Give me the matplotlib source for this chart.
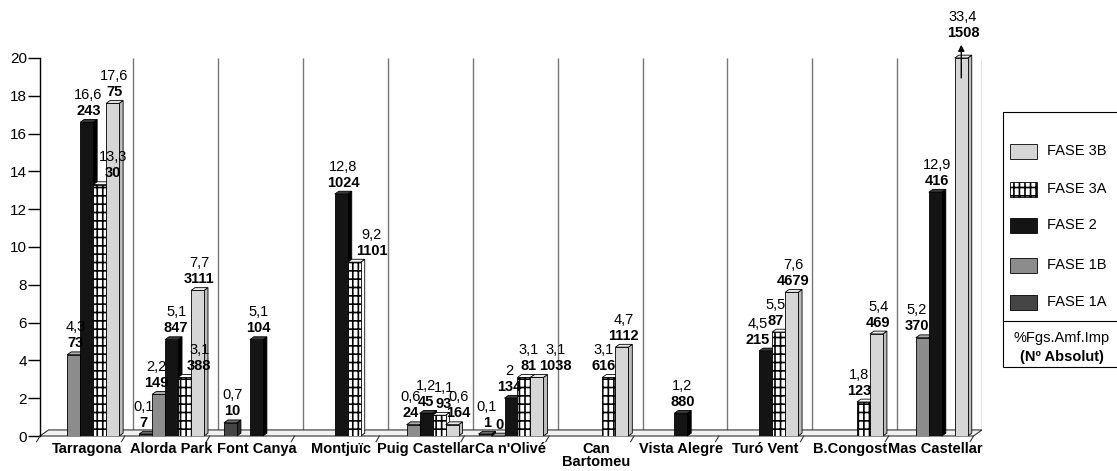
import numpy as np
import matplotlib.pyplot as plt
from matplotlib.patches import Rectangle, Polygon

plt.rcParams['font.family'] = ['Liberation Sans', 'DejaVu Sans']
plt.rcParams['hatch.linewidth'] = 1.2

sites = ['Tarragona', 'Alorda Park', 'Font Canya', 'Montjuïc', 'Puig Castellar',
         "Ca n'Olivé", 'Can\nBartomeu', 'Vista Alegre', 'Turó Vent', 'B.Congost',
         'Mas Castellar']
fases = ['FASE 1A', 'FASE 1B', 'FASE 2', 'FASE 3A', 'FASE 3B']

# % de fragments d'àmfora importada per fase (None = fase sense dades)
pct_1a = [None, 0.1, 0.7, None, None, 0.1, None, None, None, None, None]
pct_1b = [4.3, 2.2, None, None, 0.6, 0.0, None, None, None, None, 5.2]
pct_2 = [16.6, 5.1, 5.1, 12.8, 1.2, 2.0, None, 1.2, 4.5, None, 12.9]
pct_3a = [13.3, 3.1, None, 9.2, 1.1, 3.1, 3.1, None, 5.5, 1.8, None]
pct_3b = [17.6, 7.7, None, None, 0.6, 3.1, 4.7, None, 7.6, 5.4, 33.4]

# nombre absolut de fragments
num_1a = [None, 7, 10, None, None, 1, None, None, None, None, None]
num_1b = [73, 149, None, None, 24, 0, None, None, None, None, 370]
num_2 = [243, 847, 104, 1024, 45, 134, None, 880, 215, None, 416]
num_3a = [30, 388, None, 1101, 93, 81, 616, None, 87, 123, None]
num_3b = [75, 3111, None, None, 164, 1038, 1112, None, 4679, 469, 1508]

pcts = [pct_1a, pct_1b, pct_2, pct_3a, pct_3b]
nums = [num_1a, num_1b, num_2, num_3a, num_3b]

# cara frontal, lateral i superior de cada fase
styles = [
    dict(face='#454545', side='#2c2c2c', top='#6a6a6a', hatch=None),
    dict(face='#8c8c8c', side='#6c6c6c', top='#aaaaaa', hatch=None),
    dict(face='#141414', side='#000000', top='#3a3a3a', hatch=None),
    dict(face='white', side='white', top='white', hatch='|||--'),
    dict(face='#d6d6d6', side='#bcbcbc', top='#e8e8e8', hatch=None),
]

# desplaçament lateral (px) d'algunes etiquetes perquè no es trepitgin
label_shift = {
    (3, 0): 12, (0, 1): -4, (1, 1): -4, (2, 1): 3, (3, 1): 13, (3, 3): 16,
    (1, 4): -4, (2, 4): -2, (3, 4): 3, (4, 4): 5,
    (2, 5): -3, (3, 5): 3, (4, 5): 17, (3, 6): -7, (2, 8): -10, (3, 8): -5,
    (3, 9): -6, (1, 10): -7,
}


def fmt(v):
    return f'{v:g}'.replace('.', ',')


fig = plt.figure(figsize=(11.17, 4.71), dpi=100)
ax = fig.add_axes([40 / 1117, 35 / 471, 942 / 1117, 378 / 471])

ymax = 20
ax.set_xlim(-0.55, 10.55)
ax.set_ylim(0, ymax)
px = 11.1 / 942   # unitats de dades per píxel
x = np.arange(len(sites))
bw = 0.153   # amplada de barra
dx = 0.047   # profunditat lateral
dy = 0.15    # profunditat vertical

# terra en perspectiva
ax.add_patch(Polygon([(-0.55, 0), (10.45, 0), (10.55, 0.32), (-0.45, 0.32)],
                     closed=True, fc='#f2f2f2', ec='#333333', lw=0.8,
                     zorder=1, clip_on=False))
for b in np.arange(-1, len(sites)) + 0.45:
    ax.plot([b, b - 0.04], [0, -0.3], color='#333333', lw=0.8, clip_on=False)

# separadors entre jaciments
ax.vlines(x + 0.55, 0.32, ymax, colors='#777777', lw=1.0, zorder=0.5)

for i, (pct, num) in enumerate(zip(pcts, nums)):
    st = styles[i]
    z = 3 + i * 0.1
    for k in range(len(sites)):
        v = pct[k]
        if v is None:
            continue
        xc = x[k] + (i - 2) * bw
        h = min(v, ymax)
        x0, x1 = xc - bw / 2, xc + bw / 2
        ax.add_patch(Polygon([(x1, 0), (x1 + dx, dy), (x1 + dx, h + dy), (x1, h)],
                             closed=True, fc=st['side'], ec='black', lw=0.6,
                             zorder=z, clip_on=False))
        ax.add_patch(Polygon([(x0, h), (x1, h), (x1 + dx, h + dy), (x0 + dx, h + dy)],
                             closed=True, fc=st['top'], ec='black', lw=0.6,
                             zorder=z, clip_on=False))
        ax.add_patch(Rectangle((x0, 0), bw, h, fc=st['face'], ec='black', lw=0.6,
                               hatch=st['hatch'], zorder=z + 0.01))

        if v > ymax:
            # barra tallada: fletxa cap amunt
            ax.annotate('', xy=(xc, ymax + 0.85), xytext=(xc, ymax - 1.2),
                        arrowprops=dict(arrowstyle='-|>', color='black', lw=1.0,
                                        mutation_scale=9),
                        annotation_clip=False, zorder=6)
            base = ymax + 0.85
        else:
            base = h + dy
        xl = xc + 0.02 + label_shift.get((i, k), 0) * px
        ax.text(xl, base + 0.45, str(num[k]), ha='center', va='center',
                fontsize=10.5, fontweight='bold', zorder=7, clip_on=False)
        if v > 0:
            ax.text(xl, base + 1.3, fmt(v), ha='center', va='center',
                    fontsize=10.5, zorder=7, clip_on=False)

ax.set_yticks(range(0, 21, 2))
ax.tick_params(axis='y', direction='out', length=8.5, width=1, pad=1, labelsize=11)
ax.set_xticks(x)
ax.set_xticklabels(sites, fontsize=10.5, fontweight='bold', linespacing=0.95)
ax.tick_params(axis='x', length=0, pad=4)
for s in ['top', 'right', 'bottom']:
    ax.spines[s].set_visible(False)
ax.spines['left'].set_linewidth(1.0)

# llegenda
lg = fig.add_axes([1003 / 1117, (471 - 367) / 471, 130 / 1117, 255 / 471])
lg.set_xlim(0, 130)
lg.set_ylim(255, 0)
lg.axis('off')
lg.add_patch(Rectangle((0, 0), 130, 255, fill=False, ec='black', lw=0.8, clip_on=False))
entry_y = [190, 153, 113, 77, 39]
for i in range(4, -1, -1):
    st = styles[i]
    yc = entry_y[i]
    lg.add_patch(Rectangle((7, yc - 7.5), 27, 15, fc=st['face'], ec='black', lw=0.6,
                           hatch=st['hatch']))
    lg.text(44, yc, fases[i], ha='left', va='center', fontsize=10.5)
lg.plot([0, 130], [209, 209], color='black', lw=0.8, clip_on=False)
lg.text(59, 226, '%Fgs.Amf.Imp', ha='center', va='center', fontsize=10.5)
lg.text(59, 245, '(Nº Absolut)', ha='center', va='center', fontsize=10.5, fontweight='bold')

fig.savefig('out.png', dpi=100)
